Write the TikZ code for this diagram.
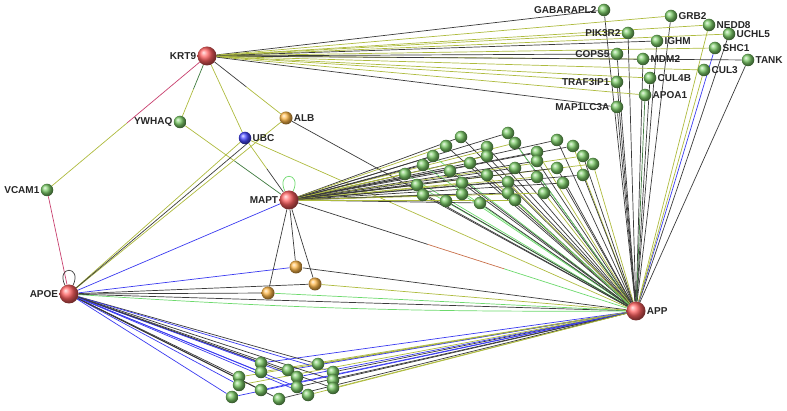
\documentclass[tikz,border=0pt]{standalone}
\usepackage{fontspec}
\setmainfont{Liberation Sans}
\usetikzlibrary{calc,backgrounds}
\definecolor{EdgeDark}{HTML}{3A3A3A}
\definecolor{EdgeOlive}{HTML}{AEBB3E}
\definecolor{EdgeBlue}{HTML}{3A3AF0}
\definecolor{EdgeGreen}{HTML}{6CD96C}
\definecolor{EdgePink}{HTML}{C8406E}
\definecolor{EdgeRust}{HTML}{C8704A}
\definecolor{EdgeForest}{HTML}{3E7A3E}
\definecolor{HubRed}{HTML}{FF6060}
\definecolor{LeafGreen}{HTML}{7CCB68}
\definecolor{DrugOrange}{HTML}{FFB848}
\definecolor{UbcBlue}{HTML}{4848FF}
% edge coloured half and half
\newcommand{\twotone}[4]{%
  \draw[edge,#3] (#1) -- ($(#1)!0.5!(#2)$);
  \draw[edge,#4] ($(#1)!0.5!(#2)$) -- (#2);}

\begin{document}
\begin{tikzpicture}[x=1pt,y=-1pt,
  hub/.style={circle,inner sep=0pt,minimum size=19pt,ball color=HubRed},
  leaf/.style={circle,inner sep=0pt,minimum size=12.5pt,ball color=LeafGreen},
  drug/.style={circle,inner sep=0pt,minimum size=13pt,ball color=DrugOrange},
  lbl/.style={font=\bfseries\fontsize{10}{11}\selectfont,inner sep=1pt,text=black!85},
  edge/.style={line width=0.7pt}]
  \useasboundingbox (0,0) rectangle (787,411);

  % hubs
  \node[hub,label={[lbl]left:KRT9}] (krt9) at (207,56) {};
  \node[hub,label={[lbl]left:MAPT}] (mapt) at (289,200) {};
  \node[hub,label={[lbl]left:APOE}] (apoe) at (69,294) {};
  \node[hub,label={[lbl]right:APP}] (app) at (636,311) {};

  % left side
  \node[leaf,label={[lbl]left:YWHAQ}] (ywhaq) at (180,122) {};
  \node[leaf,label={[lbl]left:VCAM1}] (vcam1) at (47,190) {};
  \node[circle,inner sep=0pt,minimum size=12.5pt,ball color=UbcBlue,label={[lbl]right:UBC}] (ubc) at (245,138) {};
  \node[drug,label={[lbl]right:ALB}] (alb) at (286,118) {};
  \node[drug] (o1) at (296,267) {};
  \node[drug] (o2) at (268,293) {};
  \node[drug] (o3) at (315,284) {};

  % top right
  \foreach \n/\x/\y/\s/\t in {gabarapl2/604/10/left/GABARAPL2, grb2/671/16/right/GRB2,
      nedd8/709/25/right/NEDD8, pik3r2/628/33/left/PIK3R2, uchl5/729/34/right/UCHL5,
      ighm/657/41/right/IGHM, shc1/715/48/right/SHC1, cops5/617/54/left/COPS5,
      mdm2/643/59/right/MDM2, tank/748/60/right/TANK, cul3/704/70/right/CUL3,
      cul4b/650/78/right/CUL4B, traf3ip1/617/82/left/TRAF3IP1, apoa1/645/95/right/APOA1,
      map1lc3a/617/107/left/MAP1LC3A}
    \node[leaf,label={[lbl]\s:\t}] (\n) at (\x,\y) {};

  % middle cluster
  \foreach \x/\y [count=\i] in {461/137, 508/133, 515/143, 557/140, 573/146, 446/146,
      487/147, 433/156, 487/156, 537/152, 537/161, 583/156, 423/165, 470/163, 593/164,
      515/168, 557/168, 405/174, 450/171, 487/175, 537/177, 583/175, 417/185, 462/183,
      508/182, 563/183, 423/195, 462/194, 508/193, 544/193, 446/201, 480/203, 515/200}
    \node[leaf] (m\i) at (\x,\y) {};

  % bottom cluster
  \foreach \x/\y [count=\i] in {261/363, 318/364, 261/372, 288/370, 333/372, 239/377,
      297/377, 333/380, 239/385, 261/390, 297/387, 333/388, 232/397, 279/399, 308/395}
    \node[leaf] (b\i) at (\x,\y) {};

  \begin{scope}[on background layer]
    % krt9 links
    \foreach \n/\ca/\cb in {gabarapl2/EdgeDark/EdgeDark, grb2/EdgeOlive/EdgeDark,
        nedd8/EdgeOlive/EdgeOlive, pik3r2/EdgeOlive/EdgeDark, uchl5/EdgeOlive/EdgeDark,
        ighm/EdgeDark/EdgeDark, shc1/EdgeOlive/EdgeBlue, cops5/EdgeDark/EdgeDark,
        mdm2/EdgeOlive/EdgeDark, tank/EdgeDark/EdgeDark, cul3/EdgeOlive/EdgeOlive,
        cul4b/EdgeOlive/EdgeDark, traf3ip1/EdgeOlive/EdgeDark, apoa1/EdgeOlive/EdgeForest,
        map1lc3a/EdgeDark/EdgeDark}{
      \draw[edge,\ca] (krt9) -- (\n);
      \draw[edge,\cb] (\n) -- (app);
    }
    \twotone{krt9}{vcam1}{EdgePink}{EdgeOlive}
    \twotone{krt9}{ywhaq}{EdgeForest}{EdgeOlive}
    \twotone{krt9}{alb}{EdgeDark}{EdgeOlive}
    \draw[edge,EdgeOlive] (krt9) -- (ubc);
    \twotone{ywhaq}{mapt}{EdgeOlive}{EdgeForest}
    \twotone{ubc}{mapt}{EdgeOlive}{EdgeDark}
    \draw[edge,EdgeOlive] (ubc) -- (app);
    \draw[edge,EdgeDark] (alb) -- (app);
    \draw[edge,EdgePink] (vcam1) -- (apoe);
    \draw[edge,EdgeOlive] (ubc) -- (apoe);
    \draw[edge,EdgeOlive] (alb) -- (apoe);
    \draw[edge,EdgeDark] (apoe) -- ($(ubc)+(4,4)$) coordinate (ubcx);
    \draw[edge,EdgeBlue] (apoe) -- (mapt);
    \draw[edge,EdgeDark] (apoe) -- (app);
    \draw[edge,EdgeGreen] (apoe) to[bend right=2] (app);
    % mapt to app
    \draw[edge,EdgeDark] (mapt) -- ($(mapt)!0.4!(app)$);
    \draw[edge,EdgeRust] ($(mapt)!0.4!(app)$) -- ($(mapt)!0.62!(app)$);
    \draw[edge,EdgeGreen] ($(mapt)!0.62!(app)$) -- (app);
    % drugs
    \foreach \o/\ca/\cb in {o1/EdgeBlue/EdgeDark, o2/EdgeDark/EdgeGreen, o3/EdgeDark/EdgeOlive}{
      \draw[edge,EdgeDark] (mapt) -- (\o);
      \draw[edge,\ca] (apoe) -- (\o);
      \draw[edge,\cb] (\o) -- (app);
    }
    % loops
    \draw[edge,EdgeGreen] (mapt) to[out=115,in=65,min distance=22pt] (mapt);
    \draw[edge,EdgeDark] (apoe) to[out=115,in=65,min distance=22pt] (apoe);
    % middle cluster links
    \foreach \i in {1,...,33}{
      \pgfmathtruncatemacro{\k}{mod(\i,3)}
      \pgfmathtruncatemacro{\r}{mod(\i,5)}
      \edef\ca{\ifnum\k=0 EdgeOlive\else EdgeDark\fi}
      \edef\cb{\ifcase\r EdgeOlive\or EdgeDark\or EdgeDark\or EdgeGreen\else EdgeDark\fi}
      \draw[edge,\ca] (mapt) -- (m\i);
      \draw[edge,\cb] (m\i) -- (app);
    }
    % bottom cluster links
    \foreach \i in {1,...,15}{
      \pgfmathtruncatemacro{\k}{mod(\i,2)}
      \pgfmathtruncatemacro{\r}{mod(\i,3)}
      \edef\ca{\ifnum\k=0 EdgeDark\else EdgeBlue\fi}
      \edef\cb{\ifcase\r EdgeOlive\or EdgeBlue\else EdgeDark\fi}
      \draw[edge,\ca] (apoe) -- (b\i);
      \draw[edge,\cb] (b\i) -- (app);
    }
  \end{scope}
\end{tikzpicture}
\end{document}
